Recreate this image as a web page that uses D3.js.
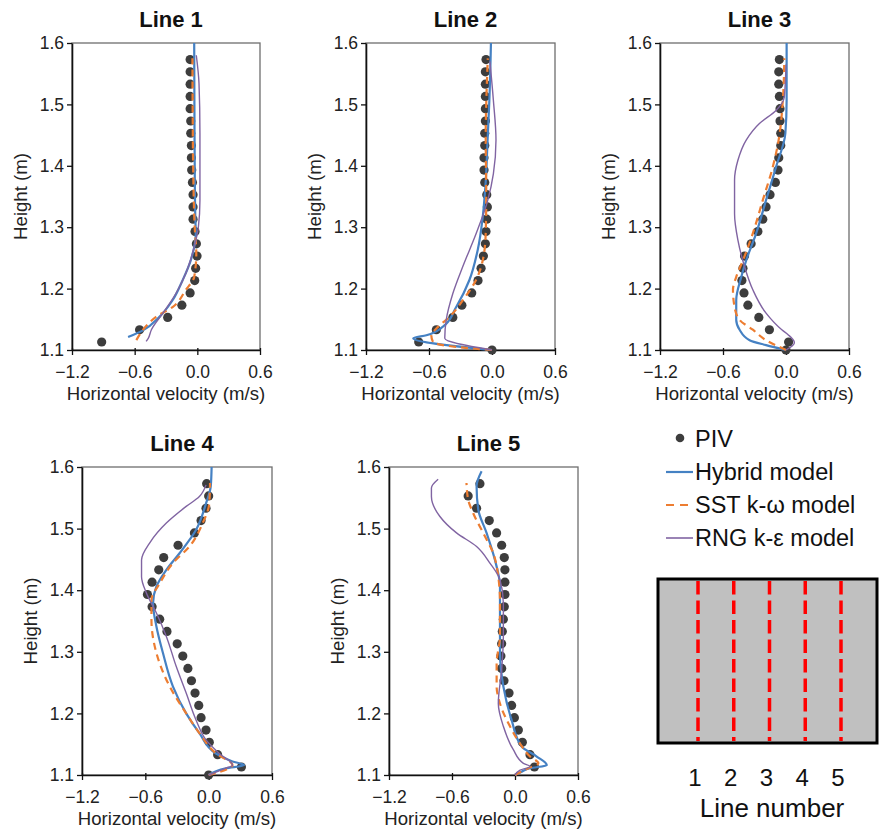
<!DOCTYPE html>
<html><head><meta charset="utf-8">
<script src="https://cdn.jsdelivr.net/npm/d3@7"></script>
<style>body{margin:0;background:#fff}svg{display:block;font-family:"Liberation Sans",Arial,sans-serif}</style>
</head><body><svg id="c" width="879" height="839"></svg>
<script>
// ---------- DATA ----------
const panelTitles = ["Line 1","Line 2","Line 3","Line 4","Line 5"];
const xTicks = [-1.2,-0.6,0.0,0.6];
const yTicks = [1.1,1.2,1.3,1.4,1.5,1.6];
const pivHeights = [1.1,1.113,1.133,1.153,1.173,1.193,1.213,1.233,1.253,1.273,1.293,1.313,1.333,1.353,1.373,1.393,1.413,1.433,1.453,1.473,1.493,1.513,1.533,1.553,1.573];
const piv1 = [null,-0.916,-0.553,-0.284,-0.148,-0.069,-0.025,-0.016,-0.003,-0.009,-0.022,-0.041,-0.041,-0.041,-0.047,-0.054,-0.057,-0.057,-0.063,-0.063,-0.069,-0.069,-0.069,-0.069,-0.069];
const piv2 = [0.0,-0.698,-0.53,-0.373,-0.287,-0.193,-0.133,-0.104,-0.082,-0.063,-0.057,-0.05,-0.044,-0.05,-0.069,-0.076,-0.076,-0.069,-0.069,-0.063,-0.063,-0.063,-0.063,-0.063,-0.057];
const piv3 = [0.0,0.025,-0.158,-0.259,-0.363,-0.40,-0.42,-0.41,-0.395,-0.332,-0.268,-0.221,-0.19,-0.152,-0.101,-0.076,-0.069,-0.05,-0.05,-0.057,-0.057,-0.063,-0.069,-0.069,-0.063];
const piv4 = [0.0,0.31,0.085,0.006,-0.025,-0.072,-0.094,-0.129,-0.163,-0.197,-0.245,-0.298,-0.395,-0.464,-0.536,-0.58,-0.536,-0.473,-0.426,-0.29,-0.135,-0.072,-0.025,0.0,-0.019];
const piv5 = [null,0.185,0.143,0.07,0.032,-0.006,-0.032,-0.057,-0.105,-0.127,-0.134,-0.127,-0.121,-0.111,-0.102,-0.096,-0.096,-0.096,-0.102,-0.127,-0.175,-0.245,-0.366,-0.446,-0.334];

// model profiles: [height (m), horizontal velocity (m/s)]
const hybrid1 = [[1.121,-0.663],[1.132,-0.52],[1.154,-0.363],[1.181,-0.237],[1.214,-0.14],[1.246,-0.063],[1.29,-0.015],[1.32,-0.02],[1.4,-0.025],[1.5,-0.028],[1.6,-0.03]];
const sst1 = [[1.116,-0.584],[1.139,-0.49],[1.154,-0.395],[1.17,-0.237],[1.198,-0.11],[1.219,-0.03],[1.257,-0.01],[1.3,-0.025],[1.4,-0.04],[1.5,-0.045],[1.575,-0.047]];
const rng1 = [[1.114,-0.49],[1.119,-0.47],[1.133,-0.44],[1.16,-0.33],[1.192,-0.205],[1.225,-0.11],[1.268,-0.03],[1.3,0.01],[1.344,0.025],[1.453,0.025],[1.534,0.016],[1.58,-0.01]];

const hybrid2 = [[1.1,0],[1.119,-0.75],[1.124,-0.625],[1.138,-0.467],[1.17,-0.341],[1.214,-0.215],[1.263,-0.136],[1.317,-0.088],[1.366,-0.063],[1.45,-0.04],[1.507,-0.025],[1.6,-0.01]];
const sst2 = [[1.1,0],[1.105,-0.34],[1.113,-0.562],[1.124,-0.578],[1.135,-0.53],[1.154,-0.404],[1.181,-0.278],[1.214,-0.152],[1.246,-0.088],[1.29,-0.06],[1.35,-0.055],[1.45,-0.06],[1.5,-0.055],[1.575,-0.04]];
const rng2 = [[1.1,0],[1.119,-0.45],[1.149,-0.436],[1.192,-0.373],[1.236,-0.278],[1.29,-0.15],[1.344,-0.04],[1.387,0.013],[1.442,0.038],[1.507,0.013],[1.57,-0.02]];

const hybrid3 = [[1.1,0],[1.108,-0.19],[1.116,-0.347],[1.133,-0.442],[1.149,-0.474],[1.181,-0.474],[1.219,-0.426],[1.246,-0.379],[1.29,-0.284],[1.344,-0.19],[1.398,-0.095],[1.453,-0.006],[1.507,0.006],[1.6,0.006]];
const sst3 = [[1.1,0],[1.105,-0.063],[1.116,-0.19],[1.133,-0.316],[1.149,-0.442],[1.17,-0.49],[1.198,-0.505],[1.219,-0.474],[1.246,-0.41],[1.29,-0.316],[1.344,-0.221],[1.398,-0.126],[1.442,-0.07],[1.507,-0.03],[1.575,-0.016]];
const rng3 = [[1.1,0],[1.112,0.08],[1.125,0.02],[1.133,-0.04],[1.16,-0.19],[1.198,-0.316],[1.236,-0.395],[1.279,-0.458],[1.322,-0.49],[1.377,-0.49],[1.409,-0.458],[1.442,-0.379],[1.469,-0.253],[1.49,-0.095],[1.512,-0.016],[1.565,0.0]];

const hybrid4 = [[1.1,0],[1.111,0.163],[1.116,0.335],[1.122,0.226],[1.135,0.069],[1.168,-0.088],[1.2,-0.213],[1.244,-0.339],[1.298,-0.433],[1.341,-0.495],[1.379,-0.527],[1.406,-0.495],[1.433,-0.401],[1.46,-0.276],[1.498,-0.119],[1.541,-0.025],[1.569,0.02],[1.6,0.028]];
const sst4 = [[1.1,0],[1.111,0.194],[1.116,0.226],[1.135,0.069],[1.168,-0.088],[1.2,-0.213],[1.244,-0.37],[1.298,-0.495],[1.352,-0.542],[1.384,-0.542],[1.411,-0.464],[1.444,-0.339],[1.471,-0.182],[1.509,-0.056],[1.541,0.006],[1.574,0.013]];
const rng4 = [[1.1,0],[1.111,0.163],[1.116,0.226],[1.135,0.1],[1.157,-0.025],[1.189,-0.119],[1.233,-0.213],[1.276,-0.307],[1.325,-0.401],[1.363,-0.495],[1.395,-0.589],[1.422,-0.636],[1.449,-0.636],[1.477,-0.558],[1.509,-0.401],[1.536,-0.213],[1.552,-0.088],[1.571,-0.025]];

const hybrid5 = [[1.1,0],[1.105,0.06],[1.111,0.143],[1.116,0.303],[1.13,0.207],[1.146,0.064],[1.189,-0.032],[1.244,-0.111],[1.298,-0.143],[1.352,-0.143],[1.406,-0.143],[1.449,-0.191],[1.493,-0.271],[1.531,-0.35],[1.569,-0.366],[1.593,-0.318]];
const sst5 = [[1.1,0],[1.111,0.127],[1.119,0.223],[1.13,0.143],[1.151,0.048],[1.179,-0.048],[1.216,-0.143],[1.244,-0.175],[1.281,-0.175],[1.325,-0.143],[1.38,-0.143],[1.422,-0.159],[1.46,-0.207],[1.493,-0.303],[1.525,-0.398],[1.547,-0.446],[1.574,-0.462]];
const rng5 = [[1.1,0],[1.108,0.048],[1.114,0.143],[1.119,0.08],[1.141,-0.016],[1.179,-0.111],[1.216,-0.159],[1.271,-0.127],[1.325,-0.111],[1.379,-0.111],[1.417,-0.143],[1.444,-0.239],[1.471,-0.366],[1.493,-0.557],[1.52,-0.717],[1.552,-0.796],[1.566,-0.796],[1.58,-0.732]];

const legendLabels = ["PIV","Hybrid model","SST k-ω model","RNG k-ε model"];
const lineNumbers = [1,2,3,4,5];
const schematicLabel = "Line number";

// ---------- STYLE / LAYOUT ----------
const colors = {piv:"#3d3d3d", hybrid:"#4581c3", sst:"#ED7D31", rng:"#8064A2"};
const panels = [
  {left:72, top:43, w:188, h:307, piv:piv1, hybrid:hybrid1, sst:sst1, rng:rng1},
  {left:366, top:43, w:189, h:307, piv:piv2, hybrid:hybrid2, sst:sst2, rng:rng2},
  {left:660, top:43, w:189, h:307, piv:piv3, hybrid:hybrid3, sst:sst3, rng:rng3},
  {left:82, top:467, w:190, h:308, piv:piv4, hybrid:hybrid4, sst:sst4, rng:rng4},
  {left:389, top:467, w:189, h:308, piv:piv5, hybrid:hybrid5, sst:sst5, rng:rng5}
];
const svg = d3.select("#c");
const fmt = d3.format(".1f");

panels.forEach((p,i)=>{
  const x = d3.scaleLinear().domain([-1.2,0.6]).range([p.left, p.left+p.w]);
  const y = d3.scaleLinear().domain([1.1,1.6]).range([p.top+p.h, p.top]);
  const g = svg.append("g");
  g.append("rect").attr("x",p.left).attr("y",p.top).attr("width",p.w).attr("height",p.h)
    .attr("fill","none").attr("stroke","#6e6e6e").attr("stroke-width",1.3);
  const xa = g.append("g").attr("transform",`translate(0,${p.top+p.h})`)
    .call(d3.axisBottom(x).tickValues(xTicks).tickFormat(fmt).tickSizeInner(5).tickSizeOuter(0));
  const ya = g.append("g").attr("transform",`translate(${p.left},0)`)
    .call(d3.axisLeft(y).tickValues(yTicks).tickFormat(fmt).tickSizeInner(5).tickSizeOuter(0));
  [xa,ya].forEach(a=>{
    a.select(".domain").attr("stroke","#111").attr("stroke-width",1.6);
    a.selectAll(".tick line").attr("stroke","#111").attr("stroke-width",1.3);
    a.selectAll(".tick text").attr("fill","#222").attr("font-size",17.5).attr("font-family","Liberation Sans, Arial, sans-serif");
  });
  xa.selectAll(".tick line").attr("y1",-2);
  xa.selectAll(".tick text").attr("y",16);
  ya.selectAll(".tick text").attr("x",-8);
  g.append("text").attr("x",p.left+p.w/2+5).attr("y",p.top-16).attr("text-anchor","middle")
    .attr("font-size",22).attr("font-weight","bold").attr("fill","#111").text(panelTitles[i]);
  g.append("text").attr("x",p.left+p.w/2).attr("y",p.top+p.h+50).attr("text-anchor","middle")
    .attr("font-size",18.6).attr("fill","#222").text("Horizontal velocity (m/s)");
  g.append("text").attr("transform",`translate(${p.left-45},${p.top+p.h/2}) rotate(-90)`).attr("text-anchor","middle")
    .attr("font-size",18.6).attr("fill","#222").text("Height (m)");
  const pts = pivHeights.map((h,k)=>({h, v:p.piv[k]})).filter(d=>d.v!==null);
  g.append("g").selectAll("circle").data(pts).join("circle")
    .attr("cx",d=>x(d.v)).attr("cy",d=>y(d.h)).attr("r",4.6).attr("fill",colors.piv);
  const line = d3.line().x(d=>x(d[1])).y(d=>y(d[0])).curve(d3.curveMonotoneY);
  g.append("path").attr("d",line(p.hybrid)).attr("fill","none").attr("stroke",colors.hybrid).attr("stroke-width",2.2);
  g.append("path").attr("d",line(p.sst)).attr("fill","none").attr("stroke",colors.sst).attr("stroke-width",2.2).attr("stroke-dasharray","7,5");
  g.append("path").attr("d",line(p.rng)).attr("fill","none").attr("stroke",colors.rng).attr("stroke-width",1.4);
});

// legend
const leg = svg.append("g").attr("font-size",23.5).attr("fill","#111");
const legY = d3.scalePoint().domain(legendLabels).range([439,538]);
legendLabels.forEach((lab,k)=>{
  const yy = legY(lab);
  if(k===0) leg.append("circle").attr("cx",680).attr("cy",yy-1).attr("r",4.3).attr("fill",colors.piv);
  else {
    const c = [colors.hybrid,colors.sst,colors.rng][k-1];
    leg.append("line").attr("x1",666).attr("x2",693).attr("y1",yy).attr("y2",yy).attr("stroke",c)
      .attr("stroke-width",k===3?1.6:2.2).attr("stroke-dasharray",k===2?"8,6":null);
  }
  leg.append("text").attr("x",695).attr("y",yy+8).text(lab);
});

// schematic
const sch = svg.append("g");
sch.append("rect").attr("x",658).attr("y",579).attr("width",219).attr("height",164)
  .attr("fill","#c0c0c0").attr("stroke","#000").attr("stroke-width",3);
const lx = d3.scalePoint().domain(lineNumbers).range([698,841]);
sch.selectAll("line.r").data(lineNumbers).join("line").attr("class","r")
  .attr("x1",d=>lx(d)).attr("x2",d=>lx(d)).attr("y1",581).attr("y2",741)
  .attr("stroke","#ff0000").attr("stroke-width",3.5).attr("stroke-dasharray","13.5,6");
sch.selectAll("text.n").data(lineNumbers).join("text").attr("class","n")
  .attr("x",d=>lx(d)-3).attr("y",786).attr("text-anchor","middle").attr("font-size",24).attr("fill","#111").text(d=>d);
sch.append("text").attr("x",772).attr("y",817).attr("text-anchor","middle").attr("font-size",26).attr("fill","#111").text(schematicLabel);
</script></body></html>
